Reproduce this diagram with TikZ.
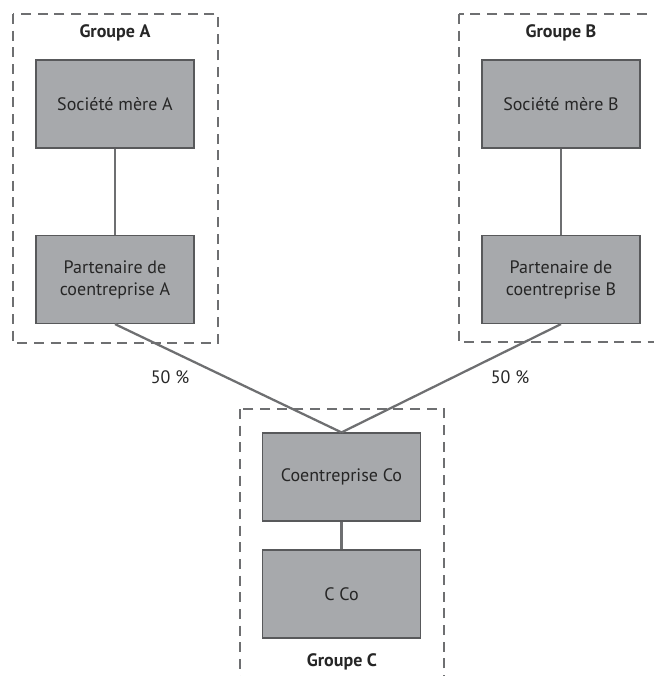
\documentclass[tikz,border=0pt]{standalone}
\usepackage{fontspec}
\setmainfont{PT Sans}
\usepackage{xcolor}
\usetikzlibrary{positioning}

\definecolor{boite}{RGB}{167,169,172}
\definecolor{bord}{RGB}{88,89,91}
\definecolor{trait}{RGB}{110,111,113}

\tikzset{
    entite/.style={draw=bord, fill=boite, line width=0.9pt, minimum width=118.5pt,
        minimum height=66pt, align=center, inner sep=2pt,
        font=\fontsize{13.5}{16.5}\selectfont, text=black!85},
    lien/.style={draw=trait, line width=1.7pt},
    groupe/.style={draw=trait, line width=1.8pt, dash pattern=on 7.5pt off 5pt},
    titre/.style={font=\fontsize{13.5}{16}\selectfont\bfseries, text=black!85},
    pourcent/.style={font=\fontsize{13.5}{16}\selectfont, text=black!85}
}

\begin{document}
\begin{tikzpicture}[x=0.75pt, y=-0.75pt]

    % =================================================================
    % 1. CADRE DE L'IMAGE
    % =================================================================
    \useasboundingbox (0,0) rectangle (654,676);
    \clip (0,0) rectangle (654,676);

    % =================================================================
    % 2. CADRES EN POINTILLES DES GROUPES
    % =================================================================
    \draw[groupe] (13,14) rectangle (218,343);
    \draw[groupe] (459,14) rectangle (700,342);
    \draw[groupe] (240,409) rectangle (444,720);

    \node[titre] (tA) at (115,33) {Groupe A};
    \node[titre] (tB) at (561,33) {Groupe B};
    \node[titre] (tC) at (342,662) {Groupe C};

    % =================================================================
    % 3. LES SOCIETES
    % =================================================================
    \node[entite] (mereA) at (115,104) {Société mère A};
    \node[entite] (partA) at (115,279.5) {Partenaire de\\coentreprise A};

    \node[entite] (mereB) at (561,104) {Société mère B};
    \node[entite] (partB) at (561,279.5) {Partenaire de\\coentreprise B};

    \node[entite] (coent) at (341.5,477) {Coentreprise Co};
    \node[entite] (cco) at (341.5,594) {C Co};

    % =================================================================
    % 4. LIENS DE DETENTION
    % =================================================================
    \draw[lien] (mereA) -- (partA);
    \draw[lien] (mereB) -- (partB);
    \draw[lien] (partA.south) -- (coent.north);
    \draw[lien] (partB.south) -- (coent.north);
    \draw[lien] (coent) -- (cco);

    \node[pourcent] (pctA) at (170,377) {50 \%};
    \node[pourcent] (pctB) at (510,377) {50 \%};

\end{tikzpicture}
\end{document}
